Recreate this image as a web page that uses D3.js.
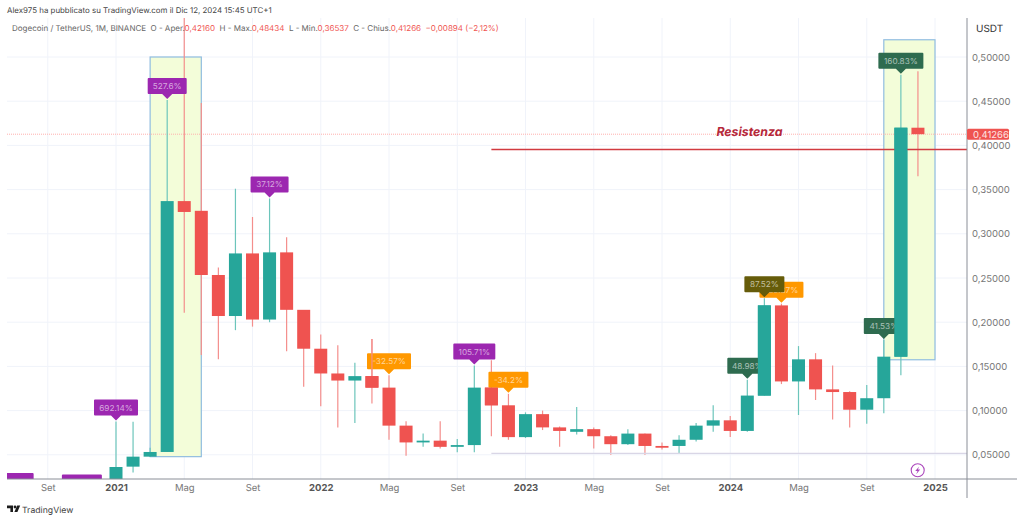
<!DOCTYPE html>
<html>
<head>
<meta charset="utf-8">
<script src="https://cdn.jsdelivr.net/npm/d3@7"></script>
<style>
html, body { margin: 0; padding: 0; background: #fff; }
svg { display: block; font-family: Inter, "Noto Sans", sans-serif; text-rendering: geometricPrecision; }
</style>
</head>
<body>
<div id="chart"></div>
<script>
var svgWidth = 1024;
var svgHeight = 521;

// monthly candles
var months = ["2021-01","2021-02","2021-03","2021-04","2021-05","2021-06","2021-07","2021-08","2021-09","2021-10","2021-11","2021-12",
  "2022-01","2022-02","2022-03","2022-04","2022-05","2022-06","2022-07","2022-08","2022-09","2022-10","2022-11","2022-12",
  "2023-01","2023-02","2023-03","2023-04","2023-05","2023-06","2023-07","2023-08","2023-09","2023-10","2023-11","2023-12",
  "2024-01","2024-02","2024-03","2024-04","2024-05","2024-06","2024-07","2024-08","2024-09","2024-10","2024-11","2024-12"];
var opens  = [0.0047,0.0366,0.0479,0.0532,0.3370,0.3260,0.2534,0.2070,0.2778,0.2030,0.2790,0.2140,
  0.1700,0.1420,0.1340,0.1390,0.1260,0.0830,0.0640,0.0660,0.0590,0.0610,0.1260,0.1060,
  0.0700,0.0960,0.0810,0.0760,0.0790,0.0710,0.0620,0.0740,0.0600,0.0600,0.0670,0.0830,
  0.0890,0.0770,0.1170,0.2190,0.1330,0.1580,0.1240,0.1210,0.1010,0.1140,0.1610,0.4200];
var closes = [0.0362,0.0479,0.0532,0.3370,0.3247,0.2534,0.2070,0.2778,0.2030,0.2790,0.2140,0.1700,
  0.1420,0.1340,0.1390,0.1260,0.0830,0.0640,0.0660,0.0590,0.0610,0.1260,0.1060,0.0700,
  0.0960,0.0810,0.0770,0.0790,0.0710,0.0620,0.0740,0.0600,0.0580,0.0670,0.0830,0.0890,
  0.0770,0.1170,0.2190,0.1330,0.1580,0.1240,0.1210,0.1010,0.1140,0.1610,0.4200,0.4127];
var highs  = [0.0876,0.0875,0.0580,0.4513,0.5441,0.4480,0.2620,0.3510,0.3190,0.3400,0.2960,0.1850,
  0.1860,0.1740,0.1540,0.1810,0.1400,0.0880,0.0740,0.0880,0.0680,0.1510,0.1570,0.1190,
  0.0980,0.1000,0.0820,0.1040,0.0810,0.0720,0.0790,0.0740,0.0640,0.0720,0.0860,0.1060,
  0.0940,0.1350,0.2270,0.2210,0.1730,0.1650,0.1510,0.1220,0.1290,0.1800,0.4800,0.4840];
var lows   = [0.0047,0.0300,0.0474,0.0532,0.2107,0.1630,0.1580,0.1910,0.1950,0.2000,0.1670,0.1270,
  0.1050,0.0810,0.0860,0.1080,0.0670,0.0490,0.0590,0.0570,0.0530,0.0530,0.0710,0.0670,
  0.0690,0.0780,0.0590,0.0730,0.0570,0.0500,0.0610,0.0500,0.0560,0.0520,0.0650,0.0760,
  0.0700,0.0760,0.1170,0.1300,0.0950,0.1120,0.0900,0.0810,0.0850,0.0970,0.1400,0.3650];

// percent labels on the candles, in drawing order (orange one goes under the olive one)
var tagMonths = ["2021-01","2021-04","2021-10","2022-05","2022-10","2022-12","2024-02","2024-04","2024-03","2024-10","2024-11"];
var tagTexts  = ["692.14%","527.6%","37.12%","-32.57%","105.71%","-34.2%","48.98%","-39.37%","87.52%","41.53%","160.83%"];
var tagPrices = [0.0876,0.4513,0.3400,0.1400,0.1510,0.1190,0.1350,0.2210,0.2270,0.1800,0.4800];
var tagFills  = ["#9c27b0","#9c27b0","#9c27b0","#ff9800","#9c27b0","#ff9800","#2e6b4f","#ff9800","#665c0a","#2e6b4f","#2e6b4f"];

// tags cut by the bottom of the pane, older months, text not readable
var oldTagMonths = ["2020-07","2020-11"];
var oldTagPrices = [0.0045,0.0028];

var priceTicks = [0.05,0.10,0.15,0.20,0.25,0.30,0.35,0.40,0.45,0.50];
var timeTicks  = ["2020-09","2021-01","2021-05","2021-09","2022-01","2022-05","2022-09","2023-01","2023-05","2023-09","2024-01","2024-05","2024-09","2025-01"];
var timeLabels = ["Set","2021","Mag","Set","2022","Mag","Set","2023","Mag","Set","2024","Mag","Set","2025"];

var lastPrice = 0.41266;
var resistance = 0.3955;
var supportLine = 0.0515;

var svg = d3.select("#chart").append("svg")
  .attr("width", svgWidth)
  .attr("height", svgHeight);

// months are not the same length, keep the candles evenly spaced like TradingView
var x = d3.scaleLinear().domain([0, 48]).range([116, 935]);
function xm(m) {
  var parts = m.split("-");
  return x((+parts[0] - 2021) * 12 + (+parts[1] - 1));
}
var y = d3.scaleLinear().domain([0, 0.5]).range([499, 57]);

var paneLeft = 7, paneRight = 967, paneTop = 18, paneBottom = 479;

svg.append("clipPath").attr("id", "pane").append("rect")
  .attr("x", paneLeft).attr("y", 0).attr("width", paneRight - paneLeft).attr("height", paneBottom);

var grid = svg.append("g");
grid.selectAll("line.h").data(priceTicks).enter().append("line")
  .attr("x1", paneLeft).attr("x2", paneRight)
  .attr("y1", d => y(d)).attr("y2", d => y(d))
  .attr("stroke", "#f0f3fa");
grid.selectAll("line.v").data(timeTicks).enter().append("line")
  .attr("x1", d => xm(d)).attr("x2", d => xm(d))
  .attr("y1", paneTop).attr("y2", paneBottom)
  .attr("stroke", "#f0f3fa");

// highlighted boxes
function box(m1, m2, p1, p2) {
  svg.append("rect")
    .attr("x", xm(m1)).attr("width", xm(m2) - xm(m1))
    .attr("y", y(p1)).attr("height", y(p2) - y(p1))
    .attr("fill", "#f3fdd9")
    .attr("stroke", "#90bde0")
    .attr("stroke-width", 1.2);
}
box("2021-03", "2021-06", 0.5, 0.0479);
box("2024-10", "2025-01", 0.5195, 0.1575);

// last price dotted line
svg.append("line")
  .attr("x1", paneLeft).attr("x2", paneRight)
  .attr("y1", y(lastPrice)).attr("y2", y(lastPrice))
  .attr("stroke", "#ffb0ae").attr("stroke-width", 1).attr("stroke-dasharray", "1,1");

// candles
var candles = months.map(function(m, i) {
  return { m: m, o: opens[i], c: closes[i], h: highs[i], l: lows[i] };
});
var up = "#26a69a", down = "#ef5350";
var bodyW = 13;
var cg = svg.append("g").attr("clip-path", "url(#pane)");
cg.selectAll("line").data(candles).enter().append("line")
  .attr("x1", d => xm(d.m)).attr("x2", d => xm(d.m))
  .attr("y1", d => y(d.h)).attr("y2", d => y(d.l))
  .attr("stroke", d => d.c >= d.o ? "#6cc5bb" : "#f48e8c")
  .attr("stroke-width", 1.2);
cg.selectAll("rect").data(candles).enter().append("rect")
  .attr("x", d => xm(d.m) - bodyW / 2)
  .attr("width", bodyW)
  .attr("y", d => y(Math.max(d.o, d.c)))
  .attr("height", d => Math.max(1, Math.abs(y(d.o) - y(d.c))))
  .attr("fill", d => d.c >= d.o ? up : down);

// resistance and the grey line under the range
svg.append("line")
  .attr("x1", xm("2022-11")).attr("x2", paneRight)
  .attr("y1", y(resistance)).attr("y2", y(resistance))
  .attr("stroke", "#d13a40").attr("stroke-width", 1.5);
svg.append("line")
  .attr("x1", xm("2022-11")).attr("x2", paneRight)
  .attr("y1", y(supportLine)).attr("y2", y(supportLine))
  .attr("stroke", "#d9d6e6").attr("stroke-width", 1.2);

svg.append("text")
  .attr("x", 749.5).attr("y", y(0.411))
  .attr("text-anchor", "middle")
  .attr("font-size", 12.3).attr("font-weight", 700).attr("font-style", "italic")
  .attr("fill", "#b5283a")
  .text("Resistenza");

// percent tags
var tagW = { "692.14%": 44, "527.6%": 39, "37.12%": 38, "-32.57%": 44, "105.71%": 42, "-34.2%": 40, "48.98%": 40, "87.52%": 40, "-39.37%": 44, "41.53%": 40, "160.83%": 45 };
function tagPath(w) {
  var l = -w / 2, r = w / 2;
  return "M0,0 L-5,-5 L" + (l + 1) + ",-5 Q" + l + ",-5 " + l + ",-6 L" + l + ",-20 Q" + l + ",-21 " + (l + 1) + ",-21"
    + " L" + (r - 1) + ",-21 Q" + r + ",-21 " + r + ",-20 L" + r + ",-6 Q" + r + ",-5 " + (r - 1) + ",-5 L5,-5 Z";
}

svg.append("g").attr("clip-path", "url(#pane)")
  .selectAll("path").data(oldTagMonths).enter().append("path")
  .attr("transform", (d, i) => "translate(" + xm(d) + "," + (y(oldTagPrices[i]) - 1) + ")")
  .attr("d", tagPath(40))
  .attr("fill", "#9c27b0");

var tagData = tagMonths.map(function(m, i) {
  return { m: m, t: tagTexts[i], p: tagPrices[i], f: tagFills[i] };
});
var tags = svg.append("g").selectAll("g").data(tagData).enter().append("g")
  .attr("transform", d => "translate(" + xm(d.m) + "," + (y(d.p) - 1) + ")");
tags.append("path")
  .attr("d", d => tagPath(tagW[d.t]))
  .attr("fill", d => d.f);
tags.append("text")
  .attr("y", -10)
  .attr("text-anchor", "middle")
  .attr("font-size", 8.2)
  .attr("fill", "#fff").attr("fill-opacity", 0.6)
  .text(d => d.t);

// candles that sit over the tags in the picture
var over = candles.filter(d => d.m == "2024-03" || d.m == "2024-11" || d.m == "2022-11" || d.m == "2022-04");
svg.append("g").selectAll("rect").data(over).enter().append("rect")
  .attr("x", d => xm(d.m) - bodyW / 2)
  .attr("width", bodyW)
  .attr("y", d => y(Math.max(d.o, d.c)))
  .attr("height", d => Math.abs(y(d.o) - y(d.c)))
  .attr("fill", d => d.c >= d.o ? up : down);
svg.append("line")
  .attr("x1", xm("2022-04")).attr("x2", xm("2022-04"))
  .attr("y1", y(highs[15])).attr("y2", y(opens[15]))
  .attr("stroke", "#f48e8c").attr("stroke-width", 1.2);

// axes
var xAxis = d3.axisBottom(d3.scalePoint().domain(timeTicks).range([xm("2020-09"), xm("2025-01")]))
  .tickSize(0).tickPadding(5).tickFormat((d, i) => timeLabels[i]);
var xg = svg.append("g").attr("transform", "translate(0," + paneBottom + ")").call(xAxis);
xg.select(".domain").remove();
xg.selectAll("text")
  .attr("font-size", 9.5)
  .attr("font-family", "Inter, sans-serif")
  .attr("font-weight", (d, i) => /^20/.test(timeLabels[i]) ? 700 : 400)
  .attr("fill", (d, i) => /^20/.test(timeLabels[i]) ? "#555" : "#777");

var yAxis = d3.axisRight(y).tickValues(priceTicks).tickSize(0).tickPadding(5)
  .tickFormat(d => d3.format(".5f")(d).replace(".", ","));
var yg = svg.append("g").attr("transform", "translate(" + paneRight + ",0)").call(yAxis);
yg.select(".domain").remove();
yg.selectAll("text")
  .attr("font-size", 9.5)
  .attr("font-family", "Inter, sans-serif")
  .attr("fill", "#777");

svg.append("line").attr("x1", paneLeft).attr("x2", 1017)
  .attr("y1", paneBottom).attr("y2", paneBottom).attr("stroke", "#8a8e97");
svg.append("line").attr("x1", paneRight).attr("x2", paneRight)
  .attr("y1", paneTop).attr("y2", 498).attr("stroke", "#8a8e97");

// last price badge
svg.append("rect").attr("x", paneRight).attr("y", y(lastPrice) - 5.5)
  .attr("width", 42).attr("height", 11).attr("rx", 1.5).attr("fill", down);
svg.append("text").attr("x", paneRight + 6).attr("y", y(lastPrice) + 3.4)
  .attr("font-size", 9.5).attr("fill", "#fde3e2").text("0,41266");

svg.append("text").attr("x", 976).attr("y", 32)
  .attr("font-size", 10).attr("fill", "#333").text("USDT");

// header
svg.append("text").attr("x", 7).attr("y", 13)
  .attr("font-size", 7.9).attr("fill", "#444")
  .text("Alex975 ha pubblicato su TradingView.com il Dic 12, 2024 15:45 UTC+1");

var legend = svg.append("text").attr("x", 12).attr("y", 31).attr("font-size", 8);
var legendParts = [["Dogecoin / TetherUS, 1M, BINANCE  O - Aper.", "#666"], ["0,42160", down], ["  H - Max.", "#666"], ["0,48434", down],
  ["  L - Min.", "#666"], ["0,36537", down], ["  C - Chius.", "#666"], ["0,41266  \u22120,00894 (\u22122,12%)", down]];
legend.selectAll("tspan").data(legendParts).enter().append("tspan")
  .style("white-space", "pre")
  .attr("fill", d => d[1]).text(d => d[0]);

// lightning icon
svg.append("circle").attr("cx", 917.7).attr("cy", 470.3).attr("r", 6.5)
  .attr("fill", "#fff").attr("stroke", "#ab47bc").attr("stroke-width", 1.1);
svg.append("path").attr("d", "M919.2,466.4 L915.2,471 H917.5 L916.2,474.2 L920.2,469.6 H917.9 Z").attr("fill", "#ab47bc");

// logo
svg.append("text").attr("x", 22).attr("y", 513)
  .attr("font-size", 8.7).attr("fill", "#444").text("TradingView");
svg.append("path").attr("d", "M7,505.5 h6 v6.5 h-2.6 v-3.7 h-3.4 z M17.2,505.5 h3 l-2.8,6.5 h-3 z").attr("fill", "#1c1c1c");
svg.append("circle").attr("cx", 15).attr("cy", 507).attr("r", 1.4).attr("fill", "#1c1c1c");
</script>
</body>
</html>
